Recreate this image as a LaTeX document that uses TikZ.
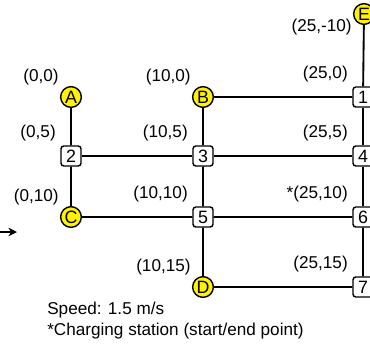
\documentclass[tikz,border=0pt]{standalone}
\usepackage{fontspec}
\setmainfont{Liberation Sans}
\usetikzlibrary{positioning,arrows.meta}
\begin{document}
\begin{tikzpicture}[>={Stealth[length=6pt,width=6pt]},x=0.7pt,y=-0.7pt,
	stop/.style={circle,draw,fill=yellow,line width=1pt,minimum size=14.5pt,inner sep=0pt,font=\fontsize{12.5}{14}\selectfont},
	cross/.style={draw,rounded corners=2pt,fill=white,line width=1pt,minimum size=14pt,inner sep=0pt,font=\fontsize{12.5}{14}\selectfont},
	coord/.style={inner sep=3pt,font=\fontsize{12}{14}\selectfont},
	road/.style={line width=1.3pt}]
		\useasboundingbox (0,0) rectangle (370,345);
		% stops and crossings
		\node[stop] (A) at (71,97) {A};
		\node[cross] (n2) at (71,156) {2};
		\node[stop] (C) at (71,217) {C};
		\node[stop] (B) at (203,97) {B};
		\node[cross] (n3) at (203,156) {3};
		\node[cross] (n5) at (203,217) {5};
		\node[stop] (D) at (203,287) {D};
		\node[stop] (E) at (364,14) {E};
		\node[cross] (n1) at (363,97) {1};
		\node[cross] (n4) at (363,156) {4};
		\node[cross] (n6) at (363,217) {6};
		\node[cross] (n7) at (363,287) {7};
		% roads
		\draw[road] (A)--(n2)--(C)--(n5)--(n6)--(n7)--(D)--(n5)--(n3)--(B)--(n1)--(E);
		\draw[road] (n2)--(n3)--(n4) (n1)--(n4)--(n6);
		% coordinates
		\node[coord,anchor=south east] (lA) at (A.north west) {(0,0)};
		\node[coord,anchor=south east] (l2) at (n2.north west) {(0,5)};
		\node[coord,anchor=south east] (lC) at (C.north west) {(0,10)};
		\node[coord,anchor=south east] (lB) at (B.north west) {(10,0)};
		\node[coord,anchor=south east] (l3) at (n3.north west) {(10,5)};
		\node[coord,anchor=south east] (l5) at (n5.north west) {(10,10)};
		\node[coord,anchor=south east] (lD) at (D.north west) {(10,15)};
		\node[coord,anchor=east,yshift=-4pt] (lE) at (E.south west) {(25,-10)};
		\node[coord,anchor=south east] (l1) at (n1.north west) {(25,0)};
		\node[coord,anchor=south east] (l4) at (n4.north west) {(25,5)};
		\node[coord,anchor=south east] (l6) at (n6.north west) {*(25,10)};
		\node[coord,anchor=south east] (l7) at (n7.north west) {(25,15)};
		% entry arrow
		\coordinate (in0) at (-10,232);
		\coordinate (in1) at (17,232);
		\draw[road,->] (in0)--(in1);
		% notes
		\node[coord,inner sep=0pt,anchor=base west] (speed) at (47,314) {Speed: 1.5 m/s};
		\node[coord,inner sep=0pt,anchor=base west] (note) at (47,335) {*Charging station (start/end point)};
\end{tikzpicture}
\end{document}
